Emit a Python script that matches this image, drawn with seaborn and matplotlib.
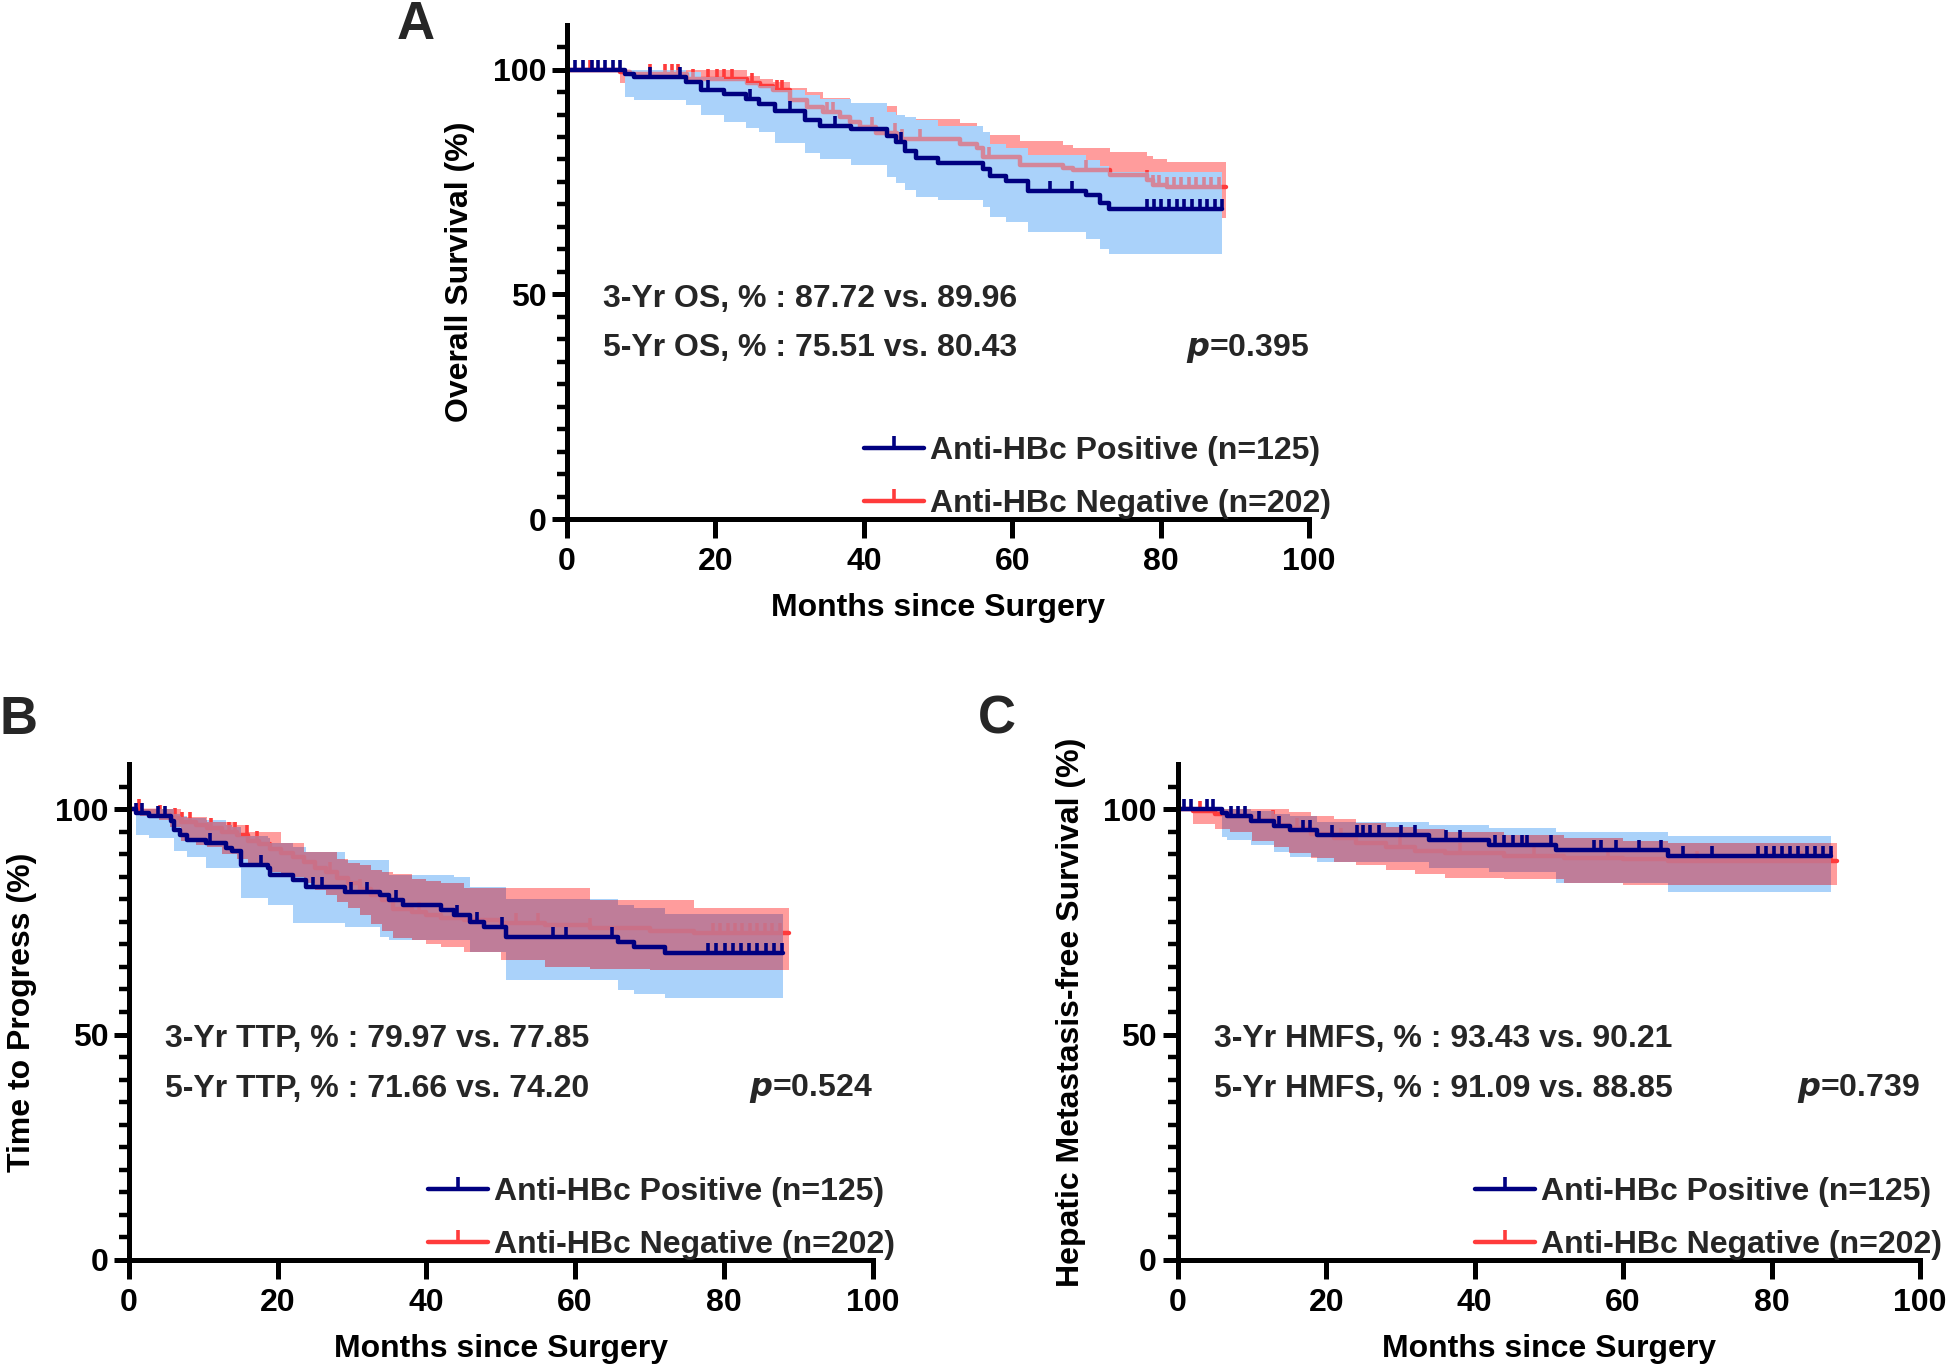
import numpy as np
import matplotlib
matplotlib.use("Agg")
import matplotlib.pyplot as plt
from matplotlib.lines import Line2D
from matplotlib.ticker import FixedLocator
import seaborn as sns

# ---- panel A : overall survival ----
pos_a_t = [0, 7.8, 9.0, 16.0, 18.1, 21.1, 24.1, 25.9, 28.0, 32.0, 34.1, 38.3, 43.1, 44.3, 45.5, 47.0, 50.0, 56.1, 57.0, 59.1, 62.1, 69.9, 71.8, 73.0]
pos_a_s = [100, 99.1, 98.4, 97.2, 95.4, 94.6, 93.5, 92.4, 90.7, 88.7, 87.5, 86.8, 85.3, 83.8, 81.9, 80.4, 79.3, 77.8, 76.3, 75.2, 73.0, 72.2, 70.4, 68.9]
pos_a_lo = [100, 94.0, 93.2, 92.1, 89.9, 88.4, 86.9, 86.2, 83.6, 81.5, 80.2, 78.8, 76.2, 74.8, 73.2, 71.7, 71.0, 69.5, 67.2, 66.0, 63.9, 62.4, 60.1, 59.0]
pos_a_hi = [100, 100, 100, 99.5, 98.4, 97.8, 97.0, 96.4, 95.4, 94.3, 93.5, 92.5, 90.5, 90.0, 89.5, 88.8, 87.5, 86.0, 83.5, 82.5, 81.0, 79.8, 78.5, 77.3]
pos_a_cens = [1.1, 2.2, 3.3, 4.2, 5.1, 6.2, 7.1, 11.2, 15.2, 19.0, 24.7, 30.1, 36.1, 45.0, 65.1, 68.0,
              78.1, 79.1, 80.1, 81.1, 82.2, 83.2, 84.2, 85.3, 86.3, 87.3, 88.2]
pos_a_end = 88.2

neg_a_t = [0, 7.1, 8.5, 16.1, 24.2, 26.0, 27.8, 30.0, 32.3, 34.5, 36.8, 38.1, 39.5, 41.7, 44.4, 53.0, 55.2, 56.1, 61.0, 66.9, 68.2, 73.2, 78.1, 79.0, 80.8]
neg_a_s = [100, 99.5, 99.1, 97.9, 96.9, 96.3, 95.4, 93.2, 91.7, 90.6, 89.5, 88.4, 87.3, 85.8, 84.6, 83.5, 82.5, 80.6, 78.8, 78.0, 77.6, 76.5, 75.4, 74.3, 73.8]
neg_a_lo = [100, 97.0, 96.5, 95.5, 94.0, 93.5, 92.0, 89.5, 88.0, 86.5, 85.3, 84.0, 83.0, 81.5, 80.3, 79.0, 78.0, 76.0, 74.0, 73.0, 72.5, 71.5, 70.0, 69.0, 67.0]
neg_a_hi = [100, 100, 100, 99.8, 98.5, 98.0, 97.3, 95.8, 95.1, 93.6, 93.6, 92.5, 92.5, 92.0, 89.1, 88.0, 87.2, 85.4, 84.0, 83.2, 82.5, 81.7, 80.8, 80.2, 79.5]
neg_a_cens = [3.1, 11.2, 13.2, 14.1, 15.0, 17.0, 19.0, 20.2, 21.1, 22.2, 24.9, 28.3, 28.9, 35.0, 35.9, 41.1,
              44.2, 45.1, 47.5, 56.9, 70.0, 78.1, 79.0, 79.8, 80.8, 81.8, 82.8, 83.8, 84.8, 85.8, 86.8, 87.8]
neg_a_end = 88.8

# ---- panel B : time to progress ----
pos_b_t = [0, 0.9, 2.7, 5.7, 6.0, 6.9, 7.8, 10.3, 13.0, 13.9, 15.1, 18.7, 19.0, 22.0, 23.8, 29.0, 33.8, 35.0, 36.8, 41.9, 43.7, 45.9, 47.7, 50.7, 65.8, 67.9, 72.1]
pos_b_s = [100, 99.1, 98.4, 97.3, 95.4, 94.3, 93.2, 92.4, 91.3, 90.6, 87.6, 86.9, 85.4, 84.3, 82.8, 81.7, 81.0, 79.9, 78.7, 77.6, 76.5, 75.0, 73.9, 71.7, 70.6, 69.5, 68.0]
pos_b_lo = [100, 94.3, 93.6, 93.6, 90.6, 90.6, 89.4, 86.9, 86.9, 86.9, 80.2, 78.7, 78.7, 74.7, 74.7, 73.9, 71.7, 71.0, 71.0, 71.0, 71.0, 68.4, 68.4, 62.1, 59.9, 59.1, 58.0]
pos_b_hi = [100, 100, 100, 100, 99.0, 98.5, 98.0, 97.5, 96.5, 96.0, 94.0, 93.5, 92.5, 91.5, 90.5, 88.7, 88.7, 85.4, 85.4, 85.4, 85.0, 82.8, 82.8, 80.0, 78.8, 78.0, 76.8]
pos_b_cens = [0.9, 1.8, 3.9, 4.8, 10.9, 17.8, 24.7, 25.9, 29.9, 32.0, 35.9, 44.1, 46.8, 50.1, 57.0, 58.8, 64.9,
              77.9, 79.0, 80.1, 81.2, 82.3, 83.4, 84.5, 85.6, 86.7, 87.8]
pos_b_end = 88.0

neg_b_t = [0, 1.5, 4, 5.5, 7, 9, 10.5, 12.5, 14.5, 16, 17.5, 19, 20.5, 22, 23.5, 25, 26.5, 28, 29.5, 31, 32.5, 34, 35.5, 38, 40, 42, 45, 50, 56, 62, 70, 76]
neg_b_s = [100, 99.5, 98.8, 98.0, 97.2, 96.4, 95.7, 95.0, 94.2, 93.0, 92.2, 91.2, 90.3, 89.3, 88.2, 87.0, 86.0, 84.8, 83.5, 82.3, 81.0, 79.8, 77.9, 77.2, 76.5, 75.9, 75.3, 74.8, 74.2, 73.6, 73.0, 72.5]
neg_b_lo = [100, 98.5, 97.5, 96.0, 93.0, 92.0, 91.5, 90.0, 89.0, 88.0, 87.5, 86.0, 85.5, 85.0, 83.5, 82.0, 81.0, 79.5, 78.0, 76.5, 74.5, 73.0, 71.5, 71.0, 70.0, 69.5, 68.4, 66.5, 65.0, 64.5, 64.3, 64.3]
neg_b_hi = [100, 100, 100, 100, 98.3, 98.3, 97.2, 97.2, 96.5, 95.0, 95.0, 95.0, 92.4, 92.4, 90.5, 90.5, 90.5, 89.0, 88.0, 87.5, 86.5, 86.0, 85.5, 84.5, 84.0, 83.5, 82.4, 82.4, 82.4, 79.9, 79.9, 78.0]
neg_b_cens = [1.3, 4.2, 6.2, 7.1, 8.2, 11.0, 13.4, 14.3, 15.8, 17.2, 27.0, 31.0, 39.0, 44.0, 52.0, 55.0, 62.0,
              78.5, 79.5, 80.5, 81.5, 82.5, 83.5, 84.5, 85.5, 86.5, 87.5]
neg_b_end = 88.8

# ---- panel C : hepatic metastasis-free survival ----
pos_c_t = [0, 6.0, 6.6, 9.9, 13.0, 15.1, 18.7, 33.8, 41.9, 50.9, 66.0]
pos_c_s = [100, 99.1, 98.4, 97.3, 96.2, 95.4, 94.3, 93.2, 92.1, 91.0, 89.7]
pos_c_lo = [100, 93.9, 93.1, 92.0, 90.5, 89.4, 88.3, 87.0, 86.0, 83.5, 81.7]
pos_c_hi = [100, 100, 100, 99.5, 99.0, 98.5, 97.2, 96.5, 95.7, 95.0, 94.0]
pos_c_cens = [0.9, 1.8, 3.9, 4.8, 7.2, 8.1, 9.0, 10.9, 13.6, 16.9, 17.8, 20.8, 24.1, 25.0, 25.9, 27.1, 30.1, 31.9,
              36.2, 38.0, 42.8, 44.0, 45.2, 46.4, 47.0, 50.3, 56.1, 57.0, 59.1, 62.1, 65.1, 68.1, 72.0,
              78.1, 79.2, 80.3, 81.4, 82.5, 83.6, 84.7, 85.8, 86.9, 88.0]
pos_c_end = 88.0

neg_c_t = [0, 2.0, 5.0, 7.0, 10.0, 13.0, 15.0, 18.0, 21.0, 24.0, 28.0, 32.0, 36.0, 44.0, 52.0, 60.0, 66.0]
neg_c_s = [100, 99.5, 99.0, 98.5, 97.5, 96.5, 95.8, 94.5, 93.5, 92.5, 91.5, 90.8, 90.2, 89.5, 89.2, 88.85, 88.6]
neg_c_lo = [100, 96.8, 95.5, 95.0, 93.0, 91.5, 90.2, 89.2, 88.3, 87.6, 86.5, 85.5, 84.8, 84.5, 83.5, 83.2, 83.2]
neg_c_hi = [100, 100, 100, 100, 100, 100, 99.3, 98.5, 97.7, 97.0, 96.0, 95.5, 95.0, 94.2, 93.5, 93.0, 92.4]
neg_c_cens = [3.0, 12.9, 13.8, 16.0, 22.0, 30.0, 38.0, 48.0, 58.0, 70.0, 80.0, 84.0, 88.0]
neg_c_end = 88.8

ylabels = ["Overall Survival (%)", "Time to Progress (%)", "Hepatic Metastasis-free Survival (%)"]
line1 = ["3-Yr OS, % : 87.72 vs. 89.96", "3-Yr TTP, % : 79.97 vs. 77.85", "3-Yr HMFS, % : 93.43 vs. 90.21"]
line2 = ["5-Yr OS, % : 75.51 vs. 80.43", "5-Yr TTP, % : 71.66 vs. 74.20", "5-Yr HMFS, % : 91.09 vs. 88.85"]
pvals = ["0.395", "0.524", "0.739"]
letters = ["A", "B", "C"]
legend_labels = ["Anti-HBc Positive (n=125)", "Anti-HBc Negative (n=202)"]

BLUE = "#000080"
RED = "#ff3b3b"
BLUE_BAND = "#aad2fa"
RED_BAND = "#ff9c9c"
MAUVE = "#bf7d99"
FS = 23

sns.set_theme(style="ticks")
plt.rcParams["font.family"] = ["Liberation Sans Narrow", "Liberation Sans", "DejaVu Sans"]
plt.rcParams["font.weight"] = "bold"
plt.rcParams["mathtext.fontset"] = "custom"
plt.rcParams["mathtext.it"] = "Liberation Sans Narrow:italic:bold"
plt.rcParams["mathtext.rm"] = "Liberation Sans Narrow:bold"


def step_at(t, v, grid):
    idx = np.searchsorted(np.asarray(t), grid, side="right") - 1
    return np.asarray(v)[np.clip(idx, 0, None)]


def band(ax, t, lo, hi, end, color, z):
    tt = np.append(t, end)
    ax.fill_between(tt, np.append(lo, lo[-1]), np.append(hi, hi[-1]), step="post",
                    color=color, lw=0, zorder=z)


def km_line(ax, t, s, cens, end, color, z):
    tt = np.append(t, end)
    ss = np.append(s, s[-1])
    sns.lineplot(x=tt, y=ss, ax=ax, color=color, lw=3.2, drawstyle="steps-post",
                 estimator=None, sort=False, legend=False, zorder=z)
    ax.plot(cens, step_at(t, s, cens), ls="none", marker=2, ms=7, mew=2.6, color=color, zorder=z)


def draw_panel(ax, pos, neg, overlap_color, overlay_alpha, k):
    band(ax, pos["t"], pos["lo"], pos["hi"], pos["end"], BLUE_BAND, 1)
    band(ax, neg["t"], neg["lo"], neg["hi"], neg["end"], RED_BAND, 1.1)

    grid = np.union1d(pos["t"], neg["t"])
    stop = min(pos["end"], neg["end"])
    grid = np.append(grid[grid < stop], stop)
    lo = np.maximum(step_at(pos["t"], pos["lo"], grid), step_at(neg["t"], neg["lo"], grid))
    hi = np.minimum(step_at(pos["t"], pos["hi"], grid), step_at(neg["t"], neg["hi"], grid))
    hi = np.maximum(hi, lo)
    ax.fill_between(grid, lo, hi, step="post", color=overlap_color, lw=0, zorder=1.2)

    km_line(ax, neg["t"], neg["s"], neg["cens"], neg["end"], RED, 2)
    ax.fill_between(grid, lo, hi, step="post", color=overlap_color, lw=0,
                    alpha=overlay_alpha, zorder=3)
    km_line(ax, pos["t"], pos["s"], pos["cens"], pos["end"], BLUE, 4)

    ax.set_xlim(0, 100)
    ax.set_ylim(0, 110)
    ax.set_xticks([0, 20, 40, 60, 80, 100])
    ax.set_yticks([0, 50, 100])
    ax.yaxis.set_minor_locator(FixedLocator(np.arange(0, 106, 5)))
    for side in ["top", "right"]:
        ax.spines[side].set_visible(False)
    for side in ["left", "bottom"]:
        ax.spines[side].set_linewidth(3.6)
        ax.spines[side].set_color("black")
        ax.spines[side].set_zorder(5)
    ax.tick_params(axis="x", which="major", length=14, width=3.6, pad=6, labelsize=FS, colors="black")
    ax.tick_params(axis="y", which="major", length=11, width=3.6, pad=4, labelsize=FS, colors="black")
    ax.tick_params(axis="y", which="minor", length=7, width=3.2, colors="black")
    for lab in ax.get_xticklabels() + ax.get_yticklabels():
        lab.set_fontweight("bold")

    ax.set_xlabel("Months since Surgery", fontsize=FS, fontweight="bold", color="black")
    ax.set_ylabel(ylabels[k], fontsize=FS, fontweight="bold", color="black")
    ax.xaxis.set_label_coords(0.5, -0.15)
    ax.yaxis.set_label_coords(-0.124, 0.5)

    ax.text(4.85, 49, line1[k], fontsize=FS, fontweight="bold", va="center", ha="left")
    ax.text(4.85, 38, line2[k], fontsize=FS, fontweight="bold", va="center", ha="left")
    ax.text(100, 38, r"$\it{p}$=" + pvals[k], fontsize=FS, fontweight="bold", va="center", ha="right")

    handles = [Line2D([], [], color=BLUE, lw=3.2, marker=2, ms=9, mew=2.6),
               Line2D([], [], color=RED, lw=3.2, marker=2, ms=9, mew=2.6)]
    ax.legend(handles, legend_labels, loc="lower right", bbox_to_anchor=(1.03, 0.0),
              frameon=False, fontsize=FS, handlelength=1.87, handletextpad=0.2,
              labelspacing=0.72, borderpad=0, borderaxespad=0, numpoints=1)


fig = plt.figure(figsize=(19.46, 13.67), dpi=100)
ax_a = fig.add_axes([0.2914, 0.6203, 0.3813, 0.3617])
ax_b = fig.add_axes([0.0663, 0.0783, 0.3821, 0.3628])
ax_c = fig.add_axes([0.6052, 0.0783, 0.3815, 0.3628])

panels = [
    (ax_a, dict(t=pos_a_t, s=pos_a_s, lo=pos_a_lo, hi=pos_a_hi, cens=pos_a_cens, end=pos_a_end),
     dict(t=neg_a_t, s=neg_a_s, lo=neg_a_lo, hi=neg_a_hi, cens=neg_a_cens, end=neg_a_end), BLUE_BAND, 0.5),
    (ax_b, dict(t=pos_b_t, s=pos_b_s, lo=pos_b_lo, hi=pos_b_hi, cens=pos_b_cens, end=pos_b_end),
     dict(t=neg_b_t, s=neg_b_s, lo=neg_b_lo, hi=neg_b_hi, cens=neg_b_cens, end=neg_b_end), MAUVE, 0.82),
    (ax_c, dict(t=pos_c_t, s=pos_c_s, lo=pos_c_lo, hi=pos_c_hi, cens=pos_c_cens, end=pos_c_end),
     dict(t=neg_c_t, s=neg_c_s, lo=neg_c_lo, hi=neg_c_hi, cens=neg_c_cens, end=neg_c_end), MAUVE, 0.82),
]
for k, (ax, pos, neg, ov, ova) in enumerate(panels):
    draw_panel(ax, pos, neg, ov, ova, k)

fig.text(0.2138, 0.982, letters[0], fontsize=38, fontweight="bold", ha="center", va="center")
fig.text(0.0095, 0.4733, letters[1], fontsize=38, fontweight="bold", ha="center", va="center")
fig.text(0.5123, 0.4733, letters[2], fontsize=38, fontweight="bold", ha="center", va="center")

fig.savefig("out.png", dpi=100, facecolor="white")
